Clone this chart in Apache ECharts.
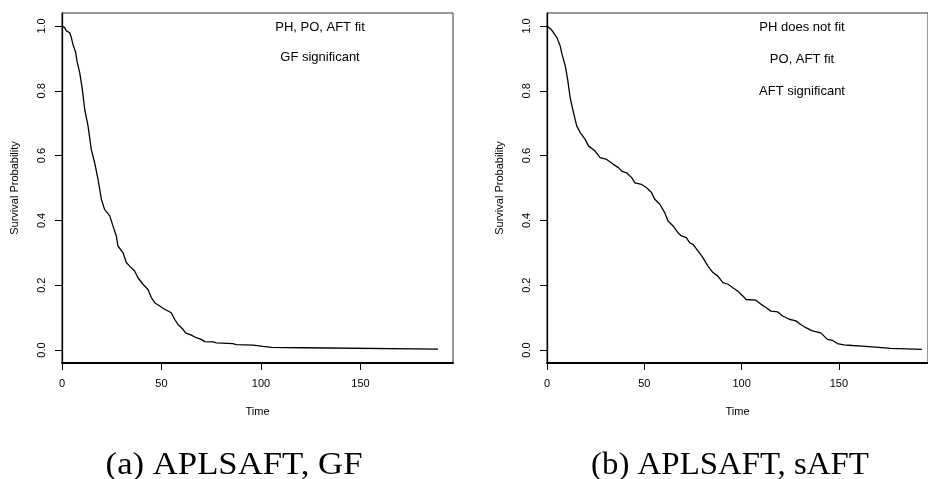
<!DOCTYPE html>
<html>
<head>
<meta charset="utf-8">
<script src="https://cdn.jsdelivr.net/npm/echarts@6/dist/echarts.min.js"></script>
<style>html,body{margin:0;padding:0;background:#fff}#c{width:928px;height:479px}</style>
</head>
<body>
<div id="c"></div>
<script>
// Panel (a): APLSAFT, GF
const timeA = [0,1.3,2.2,3.9,4.7,5.5,6.9,7.5,8.9,10.2,11.4,13.1,14.7,16.4,18.1,19.8,21.4,24.0,25.6,27.3,28.1,30.7,32.3,34.0,36.5,38.2,40.7,43.2,44.9,46.6,49.1,51.6,54.9,56.6,58.3,60.8,62.1,65.0,67.5,70.0,71.7,75.9,77.6,85.9,87.6,96.0,101.0,105.2,121.1,121.6,189];
const survA = [1.0,0.995,0.985,0.979,0.964,0.943,0.918,0.892,0.856,0.805,0.743,0.691,0.619,0.578,0.527,0.465,0.434,0.414,0.383,0.352,0.321,0.300,0.270,0.259,0.244,0.223,0.203,0.187,0.162,0.146,0.136,0.126,0.115,0.095,0.079,0.064,0.053,0.046,0.038,0.033,0.026,0.025,0.022,0.020,0.017,0.015,0.011,0.008,0.007,0.004,0.003];
// Panel (b): APLSAFT, sAFT
const timeB = [0,2.0,3.4,5.1,6.8,7.7,9.4,10.6,11.9,13.6,15.3,17.1,19.6,21.3,24.7,27.3,30.7,34.1,36.7,38.4,40.9,43.5,45.2,48.6,51.2,53.7,55.4,58.0,60.5,62.2,64.8,67.3,69.1,71.6,73.3,75.0,77.6,80.1,82.7,85.3,87.8,90.4,93.0,95.5,98.0,100.6,102.3,107.4,110.0,112.5,115.1,118.5,121.1,124.5,127.9,130.4,133.0,136.4,140.7,142.4,144.1,146.6,149.2,152.6,156.9,162.0,168.8,176.5,192.7];
const survB = [1.0,0.990,0.979,0.964,0.938,0.913,0.877,0.835,0.779,0.733,0.691,0.671,0.650,0.630,0.614,0.594,0.588,0.573,0.563,0.552,0.547,0.532,0.516,0.511,0.501,0.486,0.465,0.450,0.424,0.398,0.383,0.362,0.352,0.347,0.331,0.326,0.306,0.285,0.259,0.239,0.228,0.208,0.203,0.192,0.182,0.167,0.156,0.154,0.141,0.131,0.120,0.118,0.105,0.095,0.090,0.079,0.069,0.059,0.053,0.043,0.033,0.030,0.020,0.016,0.014,0.012,0.009,0.005,0.002];

const xTicks = [0,50,100,150];
const yTicks = [0,0.2,0.4,0.6,0.8,1.0];
const xName = 'Time';
const yName = 'Survival Probability';
const notesA = ['PH, PO, AFT fit','GF significant'];
const notesB = ['PH does not fit','PO, AFT fit','AFT significant'];
const captions = ['(a) APLSAFT, GF','(b) APLSAFT, sAFT'];

function zip(t,s){const n=Math.min(t.length,s.length);const o=[];for(let i=0;i<n;i++)o.push([t[i],s[i]]);return o;}

const SANS = '"Liberation Sans", Arial, Helvetica, sans-serif';
const SERIF = '"Liberation Serif", "DejaVu Serif", serif';

function xAxis(idx,max){
  return {
    type:'value', gridIndex:idx, min:0, max:max,
    name:xName, nameLocation:'middle', nameGap:43,
    nameTextStyle:{fontFamily:SANS,fontSize:11,color:'#000'},
    axisLine:{show:true,onZero:false,lineStyle:{color:'#000',width:1.8}},
    axisTick:{show:true,length:7,customValues:xTicks,lineStyle:{color:'#000',width:1}},
    axisLabel:{customValues:xTicks,margin:15,fontFamily:SANS,fontSize:11,color:'#000',
      formatter:v=>String(v)},
    splitLine:{show:false}
  };
}
function yAxis(idx){
  return {
    type:'value', gridIndex:idx, min:-0.04, max:1.04,
    name:yName, nameLocation:'middle', nameGap:42, nameRotate:90,
    nameTextStyle:{fontFamily:SANS,fontSize:11,color:'#000'},
    axisLine:{show:true,onZero:false,lineStyle:{color:'#000',width:1.3}},
    axisTick:{show:true,length:7,customValues:yTicks,lineStyle:{color:'#000',width:1}},
    axisLabel:{customValues:yTicks,margin:15,rotate:90,fontFamily:SANS,fontSize:11,color:'#000',
      formatter:v=>Number(v).toFixed(1)},
    splitLine:{show:false}
  };
}

const noteYA = [27,57];
const noteYB = [27,59,91];
const graphics = [];
notesA.forEach((t,i)=>graphics.push({type:'text',x:320,y:noteYA[i],style:{text:t,fontFamily:SANS,fontSize:13,fill:'#000',textAlign:'center',textVerticalAlign:'middle'}}));
notesB.forEach((t,i)=>graphics.push({type:'text',x:802,y:noteYB[i],style:{text:t,fontFamily:SANS,fontSize:13,fill:'#000',textAlign:'center',textVerticalAlign:'middle'}}));
graphics.push({type:'text',x:234,y:466,scaleX:1.12,style:{text:captions[0],fontFamily:SERIF,fontSize:31,fill:'#000',textAlign:'center',textVerticalAlign:'middle'}});
graphics.push({type:'text',x:730,y:466,scaleX:1.06,style:{text:captions[1],fontFamily:SERIF,fontSize:31,fill:'#000',textAlign:'center',textVerticalAlign:'middle'}});

const chart = echarts.init(document.getElementById('c'),null,{renderer:'canvas'});
chart.setOption({
  animation:false,
  backgroundColor:'#fff',
  grid:[
    {left:62,top:13,width:391,height:350,show:true,borderColor:'#333',borderWidth:1,backgroundColor:'transparent'},
    {left:547,top:13,width:383,height:350,show:true,borderColor:'#333',borderWidth:1,backgroundColor:'transparent'}
  ],
  xAxis:[xAxis(0,196.5),xAxis(1,195.8)],
  yAxis:[yAxis(0),yAxis(1)],
  series:[
    {type:'line',xAxisIndex:0,yAxisIndex:0,data:zip(timeA,survA),showSymbol:false,symbol:'none',
      lineStyle:{color:'#000',width:1.3}},
    {type:'line',xAxisIndex:1,yAxisIndex:1,data:zip(timeB,survB),showSymbol:false,symbol:'none',
      lineStyle:{color:'#000',width:1.3}}
  ],
  graphic:graphics
});
</script>
</body>
</html>
